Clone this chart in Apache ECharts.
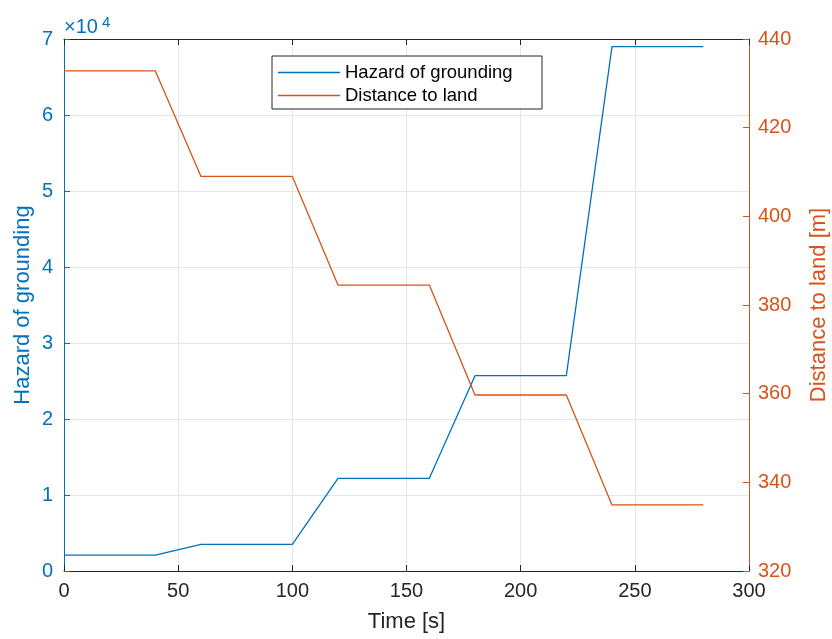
<!DOCTYPE html>
<html>
<head>
<meta charset="utf-8">
<script src="https://cdn.jsdelivr.net/npm/echarts@6/dist/echarts.min.js"></script>
<style>
  html, body { margin: 0; padding: 0; background: #fff; }
  #chart { width: 832px; height: 639px; }
</style>
</head>
<body>
<div id="chart"></div>
<script>
// time steps [s]
const timeValues = [0, 40, 60, 100, 120, 160, 180, 220, 240, 280];
// hazard of grounding (left axis)
const hazardValues = [2100, 2100, 3500, 3500, 12200, 12200, 25700, 25700, 69000, 69000];
// distance to land [m] (right axis)
const distanceValues = [432.8, 432.8, 409.0, 409.0, 384.5, 384.5, 359.7, 359.7, 334.9, 334.9];

const BLUE = '#0072BD';
const ORANGE = '#D95319';
const DARK = '#262626';
const FONT = 'Liberation Sans';

function pairs(xs, ys) {
    return xs.map((x, i) => [x, ys[i]]);
}

let chart = echarts.init(document.getElementById('chart'));

let option = {
    animation: false,
    textStyle: { fontFamily: FONT },
    title: {
        text: '×10{sup|4}',
        left: 64,
        top: 15,
        padding: 0,
        textStyle: {
            color: BLUE, fontSize: 20, fontWeight: 'normal', fontFamily: FONT,
            rich: { sup: { fontSize: 15, color: BLUE, verticalAlign: 'top', padding: [0, 0, 10, 4], fontFamily: FONT } }
        }
    },
    legend: {
        left: 272,
        top: 56,
        orient: 'vertical',
        padding: [7, 10, 4, 6],
        icon: 'rect',
        itemWidth: 62,
        itemHeight: 1.4,
        itemGap: 4,
        borderColor: DARK,
        borderWidth: 1,
        borderRadius: 0,
        backgroundColor: '#fff',
        textStyle: { fontSize: 18.5, lineHeight: 14, color: '#000', fontFamily: FONT, width: 187 },
        data: ['Hazard of grounding', 'Distance to land']
    },
    grid: { left: 64, right: 83, top: 39, bottom: 68, outerBoundsMode: 'none', containLabel: false },
    xAxis: [{
        type: 'value',
        min: 0, max: 300, interval: 50,
        name: 'Time [s]',
        nameLocation: 'middle',
        nameGap: 40,
        nameMoveOverlap: false,
        nameTextStyle: { fontSize: 22, color: DARK, fontFamily: FONT },
        axisLine: { onZero: false, lineStyle: { color: DARK, width: 1 } },
        axisTick: { inside: true, length: 6, lineStyle: { color: DARK } },
        axisLabel: { fontSize: 20, color: DARK, margin: 10, fontFamily: FONT },
        splitLine: { show: true, lineStyle: { color: '#e6e6e6', width: 1 } }
    }, {
        type: 'value',
        position: 'top',
        min: 0, max: 300, interval: 50,
        axisLine: { show: true, onZero: false, lineStyle: { color: DARK, width: 1 } },
        axisTick: { show: true, inside: true, length: 6, lineStyle: { color: DARK } },
        axisLabel: { show: false },
        splitLine: { show: false }
    }],
    yAxis: [{
        type: 'value',
        position: 'left',
        min: 0, max: 70000, interval: 10000,
        name: 'Hazard of grounding',
        nameLocation: 'middle',
        nameGap: 30,
        nameMoveOverlap: false,
        nameTextStyle: { fontSize: 22, color: BLUE, fontFamily: FONT },
        axisLine: { show: true, onZero: false, lineStyle: { color: BLUE, width: 1 } },
        axisTick: { show: true, inside: true, length: 6, lineStyle: { color: BLUE } },
        axisLabel: { fontSize: 20, color: BLUE, margin: 11, fontFamily: FONT, formatter: v => String(v / 10000) },
        splitLine: { show: true, lineStyle: { color: '#dfe7ef', width: 1 } }
    }, {
        type: 'value',
        position: 'right',
        min: 320, max: 440, interval: 20,
        name: 'Distance to land [m]',
        nameLocation: 'middle',
        nameGap: 59,
        nameRotate: 90,
        nameMoveOverlap: false,
        nameTextStyle: { fontSize: 22, color: ORANGE, fontFamily: FONT },
        axisLine: { show: true, onZero: false, lineStyle: { color: ORANGE, width: 1 } },
        axisTick: { show: true, inside: true, length: 6, lineStyle: { color: ORANGE } },
        axisLabel: { fontSize: 20, color: ORANGE, margin: 9, fontFamily: FONT },
        splitLine: { show: false }
    }],
    series: [{
        name: 'Hazard of grounding',
        type: 'line',
        xAxisIndex: 0,
        yAxisIndex: 0,
        data: pairs(timeValues, hazardValues),
        showSymbol: false,
        symbol: 'none',
        lineStyle: { color: BLUE, width: 1.3 },
        itemStyle: { color: BLUE }
    }, {
        name: 'Distance to land',
        type: 'line',
        xAxisIndex: 0,
        yAxisIndex: 1,
        data: pairs(timeValues, distanceValues),
        showSymbol: false,
        symbol: 'none',
        lineStyle: { color: ORANGE, width: 1.3 },
        itemStyle: { color: ORANGE }
    }]
};

chart.setOption(option);
window.addEventListener('resize', () => chart.resize());
</script>
</body>
</html>
